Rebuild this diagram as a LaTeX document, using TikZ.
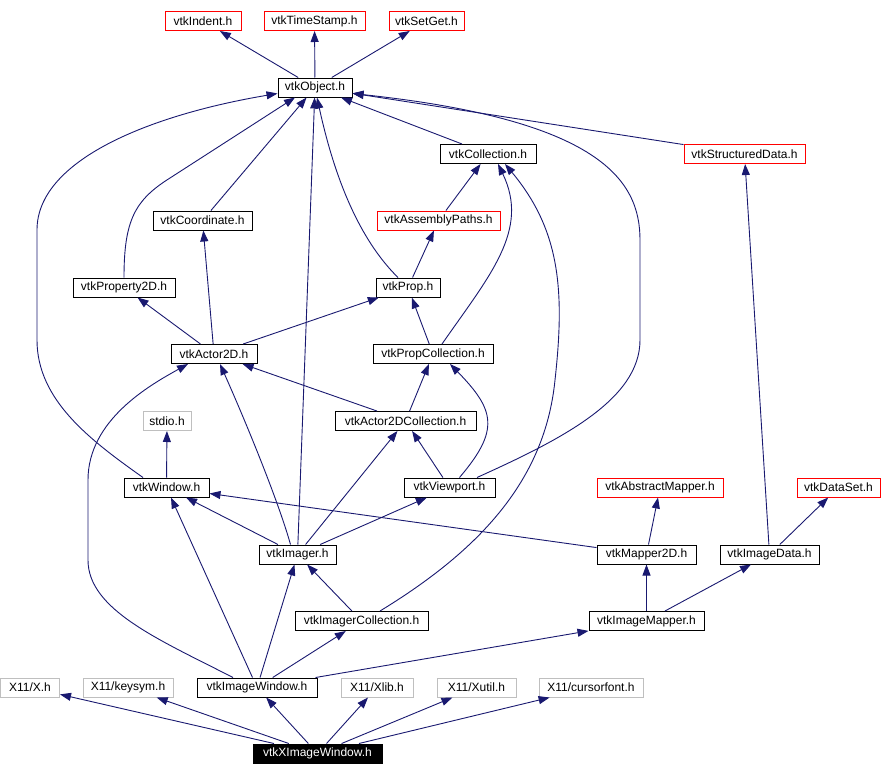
\documentclass[tikz,border=0pt]{standalone}
\usepackage{fontspec}
\setmainfont{Liberation Sans}
\usetikzlibrary{arrows.meta}
\definecolor{dxblue}{RGB}{25,25,112}
\definecolor{sysgray}{RGB}{191,191,191}

\begin{document}
\begin{tikzpicture}[
  x=1pt, y=-1pt,
  hdr/.style={draw=black, line width=1pt, fill=white, minimum height=19pt,
              inner sep=0pt, font=\fontsize{12}{14}\selectfont},
  ext/.style={hdr, draw=red},
  sys/.style={hdr, draw=sysgray},
  cur/.style={hdr, draw=black, fill=black, text=white},
  ar/.style={-{Triangle[length=11pt,width=8pt]}, dxblue, line width=0.9pt},
]

\useasboundingbox (0,0) rectangle (882,776);

% ---- top row ----
\node[ext, minimum width=76pt]  (ind) at (203,21)    {vtkIndent.h};
\node[ext, minimum width=101pt] (ts)  at (314.5,21)  {vtkTimeStamp.h};
\node[ext, minimum width=75pt]  (sg)  at (426.5,21)  {vtkSetGet.h};
\node[hdr, minimum width=74pt]  (obj) at (315,87.5)  {vtkObject.h};

% ---- collections, coordinates ----
\node[hdr, minimum width=96pt]  (coll)  at (488,154)     {vtkCollection.h};
\node[ext, minimum width=121pt] (sd)    at (744.5,154)   {vtkStructuredData.h};
\node[hdr, minimum width=99pt]  (coord) at (202.5,220.5) {vtkCoordinate.h};
\node[ext, minimum width=123pt] (ap)    at (438.5,220.5) {vtkAssemblyPaths.h};
\node[hdr, minimum width=102pt] (p2d)   at (124,287.5)   {vtkProperty2D.h};
\node[hdr, minimum width=64pt]  (prop)  at (408,287.5)   {vtkProp.h};
\node[hdr, minimum width=86pt]  (a2d)   at (214,354)     {vtkActor2D.h};
\node[hdr, minimum width=120pt] (pc)    at (433,354)     {vtkPropCollection.h};
\node[sys, minimum width=48pt]  (stdio) at (167,421)     {stdio.h};
\node[hdr, minimum width=141pt] (a2dc)  at (405.5,421)   {vtkActor2DCollection.h};

% ---- windows, viewports, mappers ----
\node[hdr, minimum width=85pt]  (win)  at (166.5,487.5) {vtkWindow.h};
\node[hdr, minimum width=91pt]  (vp)   at (449.5,487.5) {vtkViewport.h};
\node[ext, minimum width=126pt] (am)   at (660,487.5)   {vtkAbstractMapper.h};
\node[ext, minimum width=83pt]  (ds)   at (838.5,487.5) {vtkDataSet.h};
\node[hdr, minimum width=77pt]  (imgr) at (297.5,554.5) {vtkImager.h};
\node[hdr, minimum width=99pt]  (m2d)  at (646.5,554.5) {vtkMapper2D.h};
\node[hdr, minimum width=99pt]  (id)   at (769.5,554.5) {vtkImageData.h};
\node[hdr, minimum width=133pt] (ic)   at (361.5,621)   {vtkImagerCollection.h};
\node[hdr, minimum width=115pt] (im)   at (646.5,621)   {vtkImageMapper.h};

% ---- X11 row ----
\node[sys, minimum width=59pt]  (x)     at (30,687.5)    {X11/X.h};
\node[sys, minimum width=90pt]  (ks)    at (128,687.5)   {X11/keysym.h};
\node[hdr, minimum width=120pt] (iw)    at (257,687.5)   {vtkImageWindow.h};
\node[sys, minimum width=72pt]  (xlib)  at (377,687.5)   {X11/Xlib.h};
\node[sys, minimum width=79pt]  (xutil) at (476.5,687.5) {X11/Xutil.h};
\node[sys, minimum width=104pt] (cf)    at (591,687.5)   {X11/cursorfont.h};
\node[cur, minimum width=129pt] (xiw)   at (317.5,753.5) {vtkXImageWindow.h};

% ---- straight includes ----
\foreach \s/\t in {obj/ind, obj/ts, obj/sg, coll/obj, sd/obj, imgr/obj,
                   coord/obj, ap/coll, prop/ap, pc/prop, a2d/p2d, a2d/coord,
                   a2d/prop, a2dc/pc, a2dc/a2d, vp/a2dc, imgr/a2dc, imgr/vp,
                   imgr/win, win/stdio, m2d/win, m2d/am, im/m2d, im/id,
                   id/ds, id/sd, ic/imgr, iw/ic, iw/imgr, iw/win, iw/im,
                   xiw/x, xiw/ks, xiw/iw, xiw/xlib, xiw/xutil, xiw/cf}
  {\draw[ar] (\s) -- (\t);}

% ---- curved includes ----
\draw[ar] ([xshift=-23.5pt]win.north) .. controls (90,440) and (37,400) .. (37,340)
          -- (37,230) .. controls (37,160) and (150,115) .. ([yshift=-6pt]obj.west);
\draw[ar] (p2d.north) .. controls (124,220) and (135,200) .. (170,178)
          -- ([xshift=-20pt]obj.south);
\draw[ar] ([xshift=-10pt]prop.north) .. controls (360,240) and (335,180)
          .. ([xshift=2pt]obj.south);
\draw[ar] ([xshift=27.5pt]vp.north) .. controls (560,440) and (640,400) .. (640,340)
          -- (640,240) .. controls (640,180) and (600,120) .. ([yshift=-6pt]obj.east);
\draw[ar] ([xshift=9pt]pc.north) .. controls (490,275) and (530,230)
          .. ([xshift=10pt]coll.south);
\draw[ar] ([xshift=18.5pt]ic.north) .. controls (480,550) and (545,480) .. (555,380)
          .. controls (565,290) and (560,230) .. ([xshift=17pt]coll.south);
\draw[ar] ([xshift=10pt]vp.north) .. controls (500,430) and (495,410)
          .. ([xshift=17pt]pc.south);
\draw[ar] ([xshift=-7pt]imgr.north) .. controls (278,500) and (245,420)
          .. ([xshift=6pt]a2d.south);
\draw[ar] ([xshift=-24pt]iw.north) .. controls (160,640) and (88,610) .. (88,560)
          -- (88,480) .. controls (88,420) and (150,385) .. ([xshift=-26pt]a2d.south);

\end{tikzpicture}
\end{document}
